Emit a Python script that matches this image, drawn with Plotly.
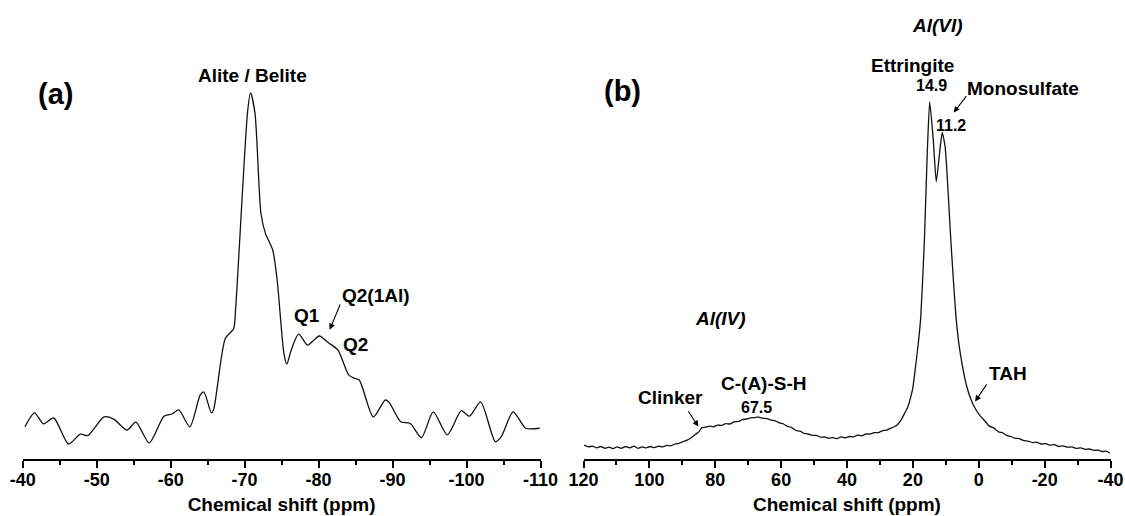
import plotly.graph_objects as go

# ---------------- data ----------------
# Panel (a): 29Si NMR spectrum (ppm, normalized intensity)
shift_a = [-40.3, -41.6, -42.8, -44.2, -46.2, -47.8, -48.8, -51.0, -52.3, -54.1,
           -55.3, -57.1, -59.1, -60.2, -61.1, -62.6, -64.0, -64.5, -65.5, -65.8,
           -67.4, -68.5, -68.8, -70.4, -70.8, -71.4, -72.2, -72.8, -73.8, -74.4,
           -75.3, -75.7, -76.3, -77.3, -78.5, -79.1, -80.1, -81.3, -82.6, -84.1,
           -84.8, -85.5, -87.4, -89.0, -89.5, -91.1, -92.4, -93.9, -95.5, -97.4,
           -99.3, -100.4, -101.9, -103.9, -104.7, -106.3, -108.0, -109.9]
int_a = [8.8, 12.6, 9.6, 11.2, 4.1, 6.8, 6.4, 11.5, 10.9, 7.9,
         10.1, 4.4, 11.7, 12.3, 13.4, 8.8, 17.5, 18.3, 12.6, 13.4,
         33.0, 35.5, 41.6, 94.8, 100.0, 94.5, 67.2, 61.7, 57.1, 48.9,
         29.0, 25.9, 29.8, 34.1, 31.1, 32.0, 33.6, 31.8, 29.8, 22.9,
         22.1, 21.6, 11.5, 16.1, 15.6, 10.2, 9.7, 5.8, 12.9, 6.6,
         13.2, 11.7, 15.6, 4.7, 6.1, 12.9, 8.4, 8.4]

# Panel (b): 27Al NMR spectrum (ppm, normalized intensity)
shift_b = [119.8, 118.5, 117.2, 116.0, 114.7, 113.5, 112.2, 111.0, 109.8, 108.5,
           107.2, 106.0, 104.7, 103.5, 102.2, 101.0, 99.7, 98.5, 97.2, 96.0,
           94.7, 93.5, 92.2, 91.0, 89.7, 88.5, 87.2, 86.0, 85.0, 84.1,
           83.0, 81.8, 80.5, 79.3, 78.0, 76.8, 75.5, 74.3, 73.0, 71.8,
           70.5, 69.3, 68.0, 66.8, 65.5, 64.3, 63.0, 61.8, 60.5, 59.3,
           58.0, 56.8, 55.5, 54.3, 53.0, 51.8, 50.5, 49.3, 48.0, 46.8,
           45.5, 44.3, 43.0, 41.8, 40.5, 39.3, 38.0, 36.8, 35.5, 34.3,
           33.0, 31.8, 30.5, 29.3, 28.0, 26.8, 25.5, 24.7, 23.5, 22.5,
           21.6, 20.9, 20.0, 19.2, 18.4, 17.6, 16.5, 15.6, 14.9, 13.8,
           12.9, 11.9, 11.1, 10.2, 8.6, 7.7, 6.9, 6.0, 5.1, 3.7,
           2.3, 1.0, -0.5, -1.8, -3.2, -4.5, -6.0, -7.3, -8.5, -9.7,
           -11.0, -12.3, -13.5, -15.0, -16.3, -17.5, -19.0, -20.3, -21.5, -23.0,
           -24.3, -25.5, -27.0, -28.3, -29.5, -31.0, -32.3, -33.5, -35.0, -36.3,
           -37.5, -38.8, -39.8]
int_b = [3.9, 3.4, 3.6, 3.1, 3.5, 3.0, 3.3, 2.9, 3.4, 3.0,
         3.5, 3.1, 3.6, 3.0, 3.4, 3.1, 3.5, 3.2, 3.6, 3.4,
         3.8, 3.7, 4.2, 4.4, 4.9, 5.3, 6.0, 6.9, 7.6, 8.7,
         8.9, 9.2, 9.0, 9.5, 9.4, 9.9, 9.8, 10.4, 10.5, 11.0,
         11.2, 11.5, 11.6, 11.7, 11.4, 11.3, 10.9, 10.7, 10.1, 9.8,
         9.1, 8.8, 8.0, 7.8, 7.2, 7.0, 6.6, 6.6, 6.1, 6.2,
         5.8, 6.0, 5.7, 6.2, 5.9, 6.3, 6.2, 6.7, 6.5, 7.0,
         7.0, 7.4, 7.4, 7.9, 8.1, 8.6, 9.1, 9.6, 11.0, 12.8,
         14.4, 16.5, 20.0, 25.8, 32.0, 39.8, 61.3, 86.5, 100.0, 89.3,
         77.6, 85.6, 91.4, 87.4, 63.2, 50.0, 39.8, 32.0, 26.8, 20.5,
         16.5, 14.0, 12.0, 10.7, 9.2, 8.7, 7.6, 7.3, 6.6, 6.3,
         5.8, 5.7, 5.2, 5.0, 4.6, 4.7, 4.2, 4.3, 3.9, 4.0,
         3.5, 3.7, 3.3, 3.4, 3.0, 3.1, 2.7, 2.8, 2.4, 2.5,
         2.1, 2.2, 1.6]

tickvals_a = [-40, -50, -60, -70, -80, -90, -100, -110]
ticktext_a = ["-40", "-50", "-60", "-70", "-80", "-90", "-100", "-110"]
minor_a = [-45, -55, -65, -75, -85, -95, -105]
tickvals_b = [120, 100, 80, 60, 40, 20, 0, -20, -40]
ticktext_b = ["120", "100", "80", "60", "40", "20", "0", "-20", "-40"]
minor_b = [110, 90, 70, 50, 30, 10, -10, -30]

FONT = "Liberation Sans, Arial, sans-serif"

fig = go.Figure()
fig.add_trace(go.Scatter(x=shift_a, y=int_a, mode="lines", xaxis="x", yaxis="y",
                         line=dict(color="#111111", width=1.3, shape="spline", smoothing=0.7),
                         showlegend=False, hoverinfo="skip"))
fig.add_trace(go.Scatter(x=shift_b, y=int_b, mode="lines", xaxis="x2", yaxis="y2",
                         line=dict(color="#111111", width=1.3, shape="spline", smoothing=0.5),
                         showlegend=False, hoverinfo="skip"))

axis_common = dict(
    showgrid=False, zeroline=False, showline=True, linecolor="black", linewidth=1.5,
    ticks="outside", ticklen=7, tickwidth=1.5, tickcolor="black", automargin=False,
    tickfont=dict(family=FONT, size=18, color="black", weight="bold"),
    ticklabelstandoff=-3,
    tickmode="array",
    title=dict(text="<b>Chemical shift (ppm)</b>", standoff=8,
               font=dict(family=FONT, size=19, color="black")),
)

fig.update_layout(
    template="none",
    width=1125, height=516,
    margin=dict(l=0, r=0, t=0, b=57, autoexpand=False),
    paper_bgcolor="white", plot_bgcolor="white",
    xaxis=dict(domain=[22.7 / 1125, 540.5 / 1125], range=[-40, -110], anchor="y",
               tickvals=tickvals_a, ticktext=[f"<b>{t}</b>" for t in ticktext_a],
               minor=dict(tickvals=minor_a, ticks="outside", ticklen=4, tickwidth=1.5,
                          tickcolor="black", showgrid=False),
               **axis_common),
    yaxis=dict(domain=[0, 1], range=[0, 125.4], visible=False, anchor="x"),
    xaxis2=dict(domain=[583.5 / 1125, 1110.5 / 1125], range=[120, -40], anchor="y2",
                tickvals=tickvals_b, ticktext=[f"<b>{t}</b>" for t in ticktext_b],
                minor=dict(tickvals=minor_b, ticks="outside", ticklen=4, tickwidth=1.5,
                           tickcolor="black", showgrid=False),
                **axis_common),
    yaxis2=dict(domain=[0, 1], range=[0, 128.5], visible=False, anchor="x2"),
)

def label(text, x, y, size, xr, yr, italic=False):
    t = f"<b>{text}</b>"
    if italic:
        t = f"<i>{t}</i>"
    fig.add_annotation(text=t, x=x, y=y, xref=xr, yref=yr, showarrow=False,
                       xanchor="center", yanchor="middle",
                       font=dict(family=FONT, size=size, color="black"))

def arrow(x, y, ax, ay, xr, yr):
    fig.add_annotation(text="", x=x, y=y, ax=ax, ay=ay, xref=xr, yref=yr,
                       axref=xr, ayref=yr, showarrow=True, arrowhead=2,
                       arrowsize=1.1, arrowwidth=1.1, arrowcolor="black")

# panel (a)
label("(a)", -44.4, 99.7, 29, "x", "y")
label("Alite / Belite", -71.0, 104.9, 19, "x", "y")
label("Q1", -78.4, 39.1, 19, "x", "y")
label("Q2(1Al)", -87.8, 44.6, 19, "x", "y")
label("Q2", -85.0, 31.2, 19, "x", "y")
arrow(-81.5, 35.3, -83.0, 42.6, "x", "y")

# panel (b)
label("(b)", 108.2, 103.1, 29, "x2", "y2")
label("Al(VI)", 12.6, 121.3, 19, "x2", "y2", italic=True)
label("Ettringite", 20.2, 110.1, 19, "x2", "y2")
label("14.9", 14.4, 104.5, 16, "x2", "y2")
label("Monosulfate", -13.3, 103.6, 19, "x2", "y2")
label("11.2", 8.3, 93.3, 16, "x2", "y2")
arrow(7.6, 97.0, 3.4, 102.0, "x2", "y2")
label("Al(IV)", 78.5, 39.3, 19, "x2", "y2", italic=True)
label("C-(A)-S-H", 65.5, 21.1, 19, "x2", "y2")
label("67.5", 67.4, 14.5, 16, "x2", "y2")
label("Clinker", 93.5, 17.3, 19, "x2", "y2")
arrow(85.1, 9.1, 88.5, 13.8, "x2", "y2")
label("TAH", -9.0, 23.9, 19, "x2", "y2")
arrow(1.1, 16.1, -2.7, 21.3, "x2", "y2")

fig.write_html("out.html", config={"displayModeBar": False},
               post_script="document.body.style.margin='0';")
